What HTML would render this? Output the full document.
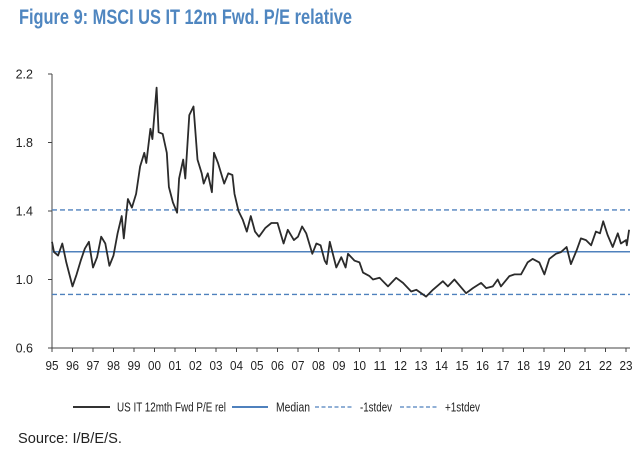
<!DOCTYPE html>
<html><head><meta charset="utf-8"><style>
html,body{margin:0;padding:0;background:#fff;}
svg{display:block;font-family:"Liberation Sans",Arial,sans-serif;}
</style></head><body>
<svg id="chart" width="640" height="462" viewBox="0 0 640 462">
<text x="19" y="24" font-size="21" font-weight="bold" fill="#4f86c0" textLength="333" lengthAdjust="spacingAndGlyphs">Figure 9: MSCI US IT 12m Fwd. P/E relative</text>
<g id="axes"></g>
<g id="refs"></g>
<g id="series"></g>
<g>
<line x1="73" y1="407" x2="110" y2="407" stroke="#333" stroke-width="2"/>
<text x="117" y="411.5" font-size="12.5" fill="#222" textLength="109" lengthAdjust="spacingAndGlyphs">US IT 12mth Fwd P/E rel</text>
<line x1="232" y1="407" x2="268" y2="407" stroke="#4f81bd" stroke-width="2"/>
<text x="276" y="411.5" font-size="12.5" fill="#222" textLength="34" lengthAdjust="spacingAndGlyphs">Median</text>
<line x1="315" y1="407" x2="353" y2="407" stroke="#4f81bd" stroke-width="1.3" stroke-dasharray="4,2.5"/>
<text x="360" y="411.5" font-size="12.5" fill="#222" textLength="32" lengthAdjust="spacingAndGlyphs">-1stdev</text>
<line x1="400" y1="407" x2="437" y2="407" stroke="#4f81bd" stroke-width="1.3" stroke-dasharray="4,2.5"/>
<text x="445" y="411.5" font-size="12.5" fill="#222" textLength="35" lengthAdjust="spacingAndGlyphs">+1stdev</text>
</g>
<text x="18" y="443" font-size="15" fill="#222" textLength="104" lengthAdjust="spacingAndGlyphs">Source: I/B/E/S.</text>
</svg>
<script>
const yearTicks=["95","96","97","98","99","00","01","02","03","04","05","06","07","08","09","10","11","12","13","14","15","16","17","18","19","20","21","22","23"];
const yTicks=[0.6,1.0,1.4,1.8,2.2];
const yTickLabels=["0.6","1.0","1.4","1.8","2.2"];
const seriesT=[0,0.1,0.3,0.5,0.7,1.0,1.2,1.4,1.6,1.8,2.0,2.2,2.4,2.6,2.8,3.0,3.2,3.4,3.5,3.7,3.9,4.1,4.3,4.5,4.6,4.8,4.9,5.1,5.2,5.4,5.6,5.7,5.9,6.1,6.2,6.4,6.5,6.7,6.9,7.1,7.3,7.4,7.6,7.8,7.9,8.1,8.4,8.6,8.8,8.9,9.1,9.3,9.5,9.7,9.9,10.1,10.4,10.7,11.0,11.3,11.5,11.8,12.0,12.2,12.4,12.7,12.9,13.1,13.3,13.4,
13.55,13.87,14.11,14.32,14.44,14.76,15.0,15.17,15.49,15.66,15.98,16.39,16.79,17.12,17.52,17.77,18.25,18.58,19.07,19.31,19.63,20.2,20.53,20.93,21.18,21.5,21.74,21.9,22.31,22.56,22.88,23.2,23.45,23.77,24.02,24.26,24.58,24.83,25.1,25.31,25.59,25.8,26.05,26.3,26.53,26.73,26.89,27.1,27.35,27.6,27.75,28.0,28.04,28.15];
const seriesV=[1.22,1.16,1.14,1.21,1.10,0.96,1.03,1.11,1.18,1.22,1.07,1.13,1.25,1.21,1.08,1.14,1.27,1.37,1.24,1.47,1.42,1.50,1.66,1.74,1.68,1.88,1.82,2.12,1.86,1.85,1.74,1.54,1.45,1.39,1.59,1.70,1.59,1.96,2.01,1.70,1.62,1.56,1.62,1.51,1.74,1.68,1.56,1.62,1.61,1.50,1.40,1.35,1.28,1.37,1.28,1.25,1.30,1.33,1.33,1.21,1.29,1.23,1.25,1.31,1.27,1.15,1.21,1.20,1.11,1.09,
1.22,1.07,1.13,1.07,1.15,1.11,1.10,1.04,1.02,1.00,1.01,0.96,1.01,0.98,0.93,0.94,0.90,0.94,0.99,0.96,1.00,0.92,0.95,0.98,0.95,0.96,1.00,0.96,1.02,1.03,1.03,1.10,1.12,1.10,1.03,1.12,1.15,1.16,1.19,1.09,1.17,1.24,1.23,1.20,1.28,1.27,1.34,1.26,1.19,1.27,1.21,1.23,1.20,1.29];
const refNames=["median","minus-1stdev","plus-1stdev"];
const refValues=[1.162,0.913,1.406];
const refDashed=[false,true,true];
const NS="http://www.w3.org/2000/svg";
const X0=52,XW=20.5,Y0=348,YTOP=74,VMIN=0.6,VMAX=2.2;
function xs(t){return X0+t*XW;}
function ys(v){return Y0-(v-VMIN)/(VMAX-VMIN)*(Y0-YTOP);}
const XEND=630;
function mk(tag,attrs,parent){const e=document.createElementNS(NS,tag);for(const k in attrs)e.setAttribute(k,attrs[k]);parent.appendChild(e);return e;}
const axes=document.getElementById('axes');
let el=mk('line',{x1:X0,y1:YTOP,x2:X0,y2:Y0,stroke:'#444','stroke-width':1},axes);


el=mk('line',{x1:X0,y1:Y0,x2:XEND,y2:Y0,stroke:'#444','stroke-width':1},axes);


yTicks.forEach((v,i)=>{
  const y=ys(v);
  const t=mk('line',{x1:X0-4,y1:y,x2:X0,y2:y,stroke:'#444'},axes);
  
  
  const l=mk('text',{x:33,y:y+4.5,'font-size':12.5,fill:'#222','text-anchor':'end'},axes);
  l.textContent=yTickLabels[i];
  
  
});
yearTicks.forEach((lab,i)=>{
  const x=xs(i);
  const t=mk('line',{x1:x,y1:Y0,x2:x,y2:Y0+4,stroke:'#444'},axes);
  
  
  const l=mk('text',{x:x,y:370,'font-size':12.5,fill:'#222','text-anchor':'middle',textLength:13,lengthAdjust:'spacingAndGlyphs'},axes);
  l.textContent=lab;
  
  
});
const refs=document.getElementById('refs');
refValues.forEach((v,i)=>{
  const a={x1:X0,y1:ys(v),x2:XEND,y2:ys(v),stroke:'#4f81bd','stroke-width':refDashed[i]?1.4:1.6};
  if(refDashed[i])a['stroke-dasharray']='5,3';
  const l=mk('line',a,refs);
  
  
});
const pts=seriesT.map((t,i)=>xs(t).toFixed(1)+','+ys(seriesV[i]).toFixed(1)).join(' ');
const pl=mk('polyline',{points:pts,fill:'none',stroke:'#2b2b2b','stroke-width':1.8,'stroke-linejoin':'round'},document.getElementById('series'));


</script>
</body></html>
